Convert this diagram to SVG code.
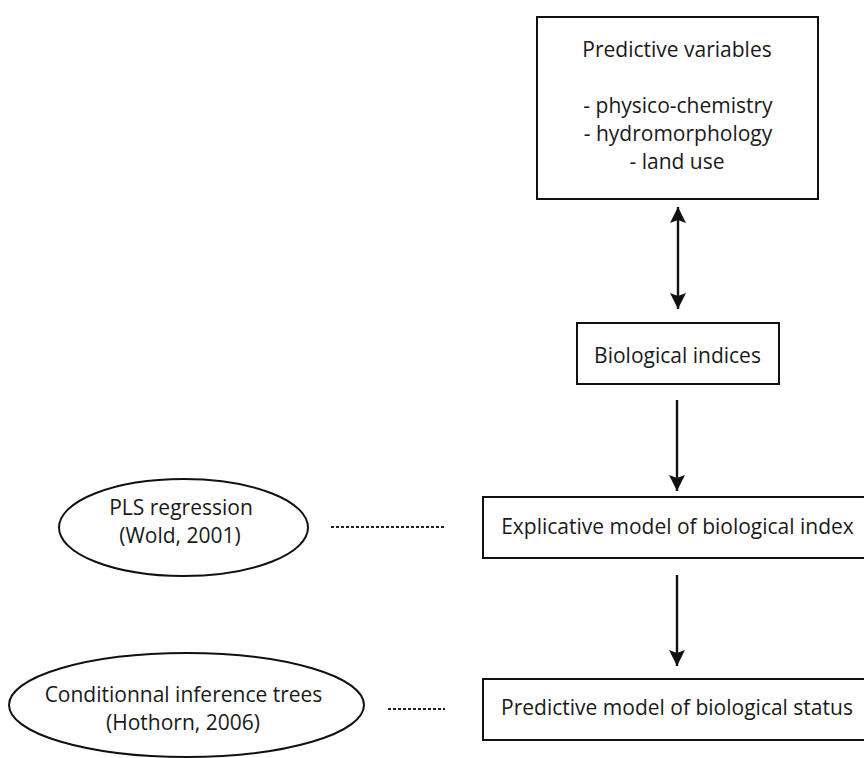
<svg xmlns="http://www.w3.org/2000/svg" width="864" height="758" viewBox="0 0 864 758">
  <style>
    .box { fill: #ffffff; stroke: #111111; stroke-width: 2; }
    .oval { fill: #ffffff; stroke: #111111; stroke-width: 2; }
    .t { font-family: "Open Sans", "Liberation Sans", sans-serif; font-size: 21px; fill: #1a1a1a; text-anchor: middle; }
    .arrow { stroke: #111111; stroke-width: 2.4; fill: none; }
    .dots { stroke: #222222; stroke-width: 2; stroke-dasharray: 3 2; fill: none; }
  </style>
  <defs>
    <marker id="head" markerUnits="userSpaceOnUse" markerWidth="18" markerHeight="18" refX="16" refY="8" orient="auto-start-reverse">
      <path d="M0,0 L16,8 L0,16 L3,8 z" fill="#111111"/>
    </marker>
  </defs>
  <rect width="864" height="758" fill="#ffffff"/>

  <g id="predictive-variables">
    <rect class="box" x="537" y="17" width="281" height="182"/>
    <text class="t" x="677" y="57">Predictive variables</text>
    <text class="t" x="678" y="113">- physico-chemistry</text>
    <text class="t" x="678" y="141">- hydromorphology</text>
    <text class="t" x="677" y="169">- land use</text>
  </g>

  <g id="biological-indices">
    <rect class="box" x="577" y="323" width="202" height="61"/>
    <text class="t" x="677.5" y="363">Biological indices</text>
  </g>

  <g id="explicative-model">
    <rect class="box" x="483" y="497" width="384" height="61"/>
    <text class="t" x="677.5" y="533.5">Explicative model of biological index</text>
  </g>

  <g id="predictive-model">
    <rect class="box" x="483" y="679" width="384" height="61"/>
    <text class="t" x="677" y="715">Predictive model of biological status</text>
  </g>

  <g id="pls-regression">
    <ellipse class="oval" cx="183.5" cy="527.5" rx="124.5" ry="48.5"/>
    <text class="t" x="181" y="515">PLS regression</text>
    <text class="t" x="180" y="543">(Wold, 2001)</text>
  </g>

  <g id="conditional-inference-trees">
    <ellipse class="oval" cx="186.5" cy="705" rx="177.5" ry="52"/>
    <text class="t" x="183.5" y="702">Conditionnal inference trees</text>
    <text class="t" x="183" y="730">(Hothorn, 2006)</text>
  </g>

  <g id="connectors">
    <line class="arrow" x1="678" y1="207" x2="678" y2="309" marker-start="url(#head)" marker-end="url(#head)"/>
    <line class="arrow" x1="677" y1="400" x2="677" y2="491" marker-end="url(#head)"/>
    <line class="arrow" x1="677" y1="575" x2="677" y2="666" marker-end="url(#head)"/>
    <line class="dots" x1="331" y1="527" x2="445" y2="527"/>
    <line class="dots" x1="388" y1="709" x2="445" y2="709"/>
  </g>
</svg>
